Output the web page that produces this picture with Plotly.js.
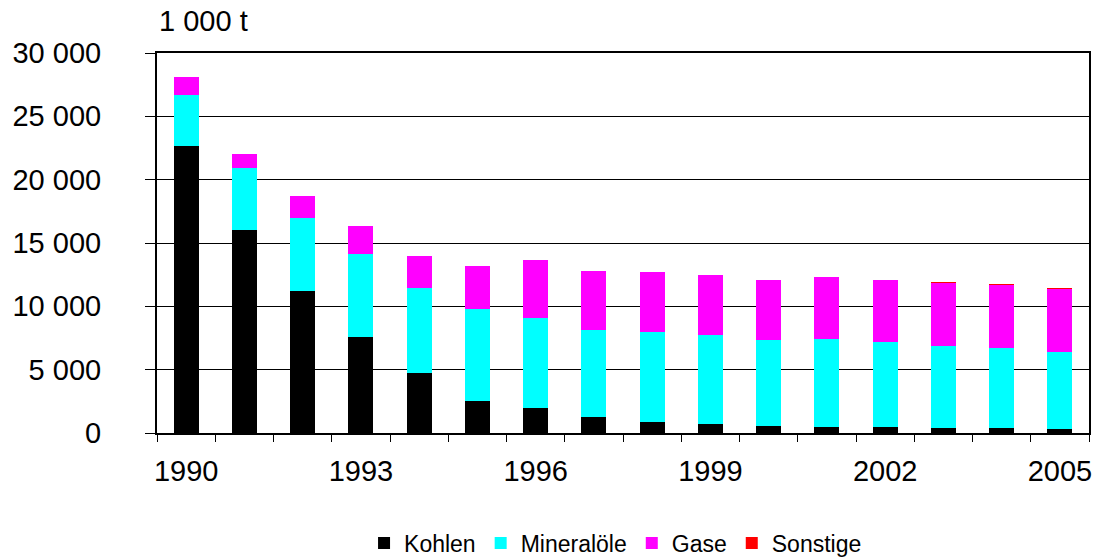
<!DOCTYPE html>
<html>
<head>
<meta charset="utf-8">
<script src="https://cdn.plot.ly/plotly-3.0.1.min.js"></script>
<style>html,body{margin:0;padding:0;background:#fff;}#chart{width:1095px;height:557px;}</style>
</head>
<body>
<div id="chart"></div>
<script>
const years = ["1990","1991","1992","1993","1994","1995","1996","1997","1998","1999","2000","2001","2002","2003","2004","2005"];
const tickLabels = ["1990","","","1993","","","1996","","","1999","","","2002","","","2005"];
const kohlen =     [22690,16000,11210,7610,4770,2530,1950,1240,840,690,530,470,470,390,390,320];
const mineraloele = [3970,4900,5740,6500,6650,7240,7110,6870,7110,7020,6790,6930,6690,6450,6300,6050];
const gase =        [1420,1100,1740,2210,2530,3390,4570,4660,4740,4740,4740,4890,4900,4980,5030,4970];
const sonstige =    [0,0,0,0,0,0,0,0,0,0,0,0,0,80,80,80];

const font = {family: 'Liberation Sans, Arial, sans-serif', color: '#000'};
function tr(name, y, color) {
  return {type: 'bar', name: name, x: years, y: y, marker: {color: color, line: {width: 0}}, hoverinfo: 'x+y+name'};
}
const data = [
  tr('Kohlen', kohlen, '#000000'),
  tr('Mineralöle', mineraloele, '#00ffff'),
  tr('Gase', gase, '#ff00ff'),
  tr('Sonstige', sonstige, '#ff0000')
];
const layout = {
  width: 1095, height: 557,
  margin: {l: 157, r: 6, t: 53, b: 124, autoexpand: false},
  barmode: 'stack',
  bargap: 0.57,
  paper_bgcolor: '#fff', plot_bgcolor: '#fff',
  font: Object.assign({size: 29}, font),
  showlegend: true,
  legend: {orientation: 'h', x: 0.492, xanchor: 'center', xref: 'paper', yref: 'container', y: 14/557, yanchor: 'middle',
           font: Object.assign({size: 23}, font), traceorder: 'normal'},
  xaxis: {type: 'category', tickmode: 'array', tickvals: years, ticktext: tickLabels,
          tickson: 'boundaries', ticks: 'outside', ticklen: 7, tickwidth: 1, tickcolor: '#000',
          showline: true, linecolor: '#000', linewidth: 2, mirror: true, showgrid: false,
          tickangle: 0, automargin: false,
          ticklabelstandoff: 11, tickfont: Object.assign({size: 29}, font), fixedrange: true},
  yaxis: {range: [0, 30000], tickvals: [0,5000,10000,15000,20000,25000,30000],
          ticktext: ["0","5 000","10 000","15 000","20 000","25 000","30 000"],
          ticks: 'outside', ticklen: 10, tickwidth: 1, tickcolor: '#000',
          showline: true, linecolor: '#000', linewidth: 2, mirror: true,
          showgrid: true, gridcolor: '#000', gridwidth: 1, zeroline: false, automargin: false,
          ticklabelstandoff: 38, tickfont: Object.assign({size: 29}, font), fixedrange: true},
  annotations: [{text: '1 000 t', xref: 'paper', yref: 'paper', x: 0, y: 1, xanchor: 'left', yanchor: 'bottom',
                 yshift: 14, xshift: 0, showarrow: false, font: Object.assign({size: 29}, font)}]
};
Plotly.newPlot('chart', data, layout, {displayModeBar: false, staticPlot: true});
</script>
</body>
</html>
